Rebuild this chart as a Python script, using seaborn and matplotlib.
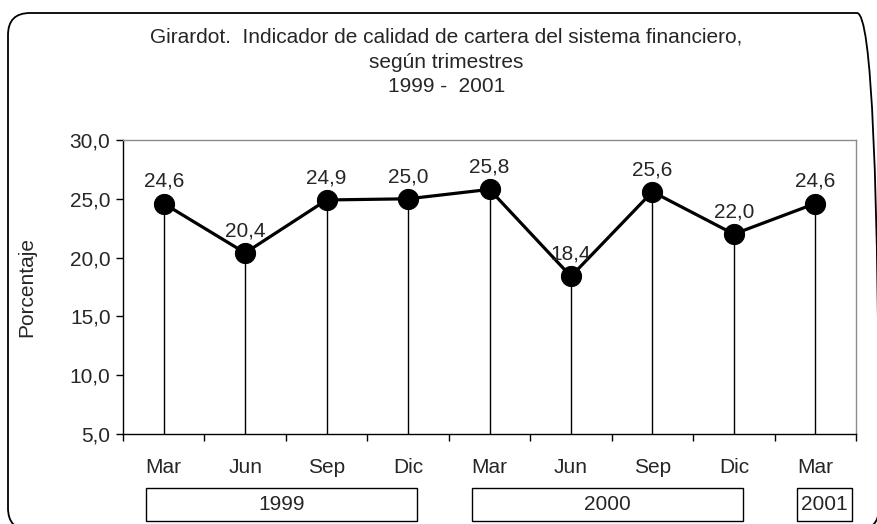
import matplotlib
matplotlib.use("Agg")
import matplotlib.pyplot as plt
import matplotlib.transforms as mtransforms
from matplotlib.patches import FancyBboxPatch, Rectangle
from matplotlib.ticker import FuncFormatter
import seaborn as sns
import pandas as pd

sns.set_style("white")
plt.rcParams['font.family'] = ['Liberation Sans', 'DejaVu Sans']

# data
trimestres = ['Mar', 'Jun', 'Sep', 'Dic', 'Mar', 'Jun', 'Sep', 'Dic', 'Mar']
valores = [24.6, 20.4, 24.9, 25.0, 25.8, 18.4, 25.6, 22.0, 24.6]
anios = ['1999', '2000', '2001']
anio_rango = [(0, 3), (4, 7), (8, 8)]

df = pd.DataFrame({'pos': range(len(valores)), 'valor': valores})
FS = 15

def coma(v, _=None):
    return f"{v:.1f}".replace('.', ',')

fig = plt.figure(figsize=(8.77, 5.24), dpi=100)
ax = fig.add_axes([123 / 877, 1 - 434 / 524, 733 / 877, 294 / 524])

# drop lines from each point to the bottom
ax.vlines(df['pos'], 5, df['valor'], color='black', linewidth=1, zorder=1)
sns.lineplot(data=df, x='pos', y='valor', ax=ax, color='black', linewidth=2.3,
             marker='o', markersize=14.5, markeredgecolor='black', zorder=3)

for x, y in zip(df['pos'], df['valor']):
    ax.annotate(coma(y), (x, y), xytext=(0, 16), textcoords='offset points',
                ha='center', va='center', fontsize=FS)

ax.set_xlim(-0.5, len(valores) - 0.5)
ax.set_ylim(5, 30)
ax.set_yticks([5, 10, 15, 20, 25, 30])
ax.yaxis.set_major_formatter(FuncFormatter(coma))
ax.set_xticks([i - 0.5 for i in range(len(valores) + 1)])
ax.set_xticklabels([])
ax.tick_params(axis='both', direction='out', length=5, width=1, color='black',
               labelsize=FS, left=True, bottom=True, pad=4)
ax.set_xlabel('')
ax.set_ylabel('Porcentaje', fontsize=FS)
ax.yaxis.set_label_coords(-0.119, 0.5)

for s in ['left', 'bottom']:
    ax.spines[s].set_color('black')
    ax.spines[s].set_linewidth(1)
for s in ['top', 'right']:
    ax.spines[s].set_color('#8c8c8c')
    ax.spines[s].set_linewidth(1)

# category labels and year boxes under the axis
trans = mtransforms.blended_transform_factory(ax.transData, ax.transAxes)
for i, t in enumerate(trimestres):
    ax.text(i, -0.113, t, transform=trans, ha='center', va='center',
            fontsize=FS, clip_on=False)

for anio, (a, b) in zip(anios, anio_rango):
    x0 = a - 0.5 + 0.28
    x1 = b + 0.5 - 0.05 if a == b else b + 0.5 - 0.39
    ax.add_patch(Rectangle((x0, -0.296), x1 - x0, 0.112, transform=trans,
                           fill=False, edgecolor='black', linewidth=1,
                           clip_on=False))
    ax.text((x0 + x1) / 2, -0.24, anio, transform=trans, ha='center',
            va='center', fontsize=FS, clip_on=False)

fig.text(0.509, 1 - 37 / 524,
         'Girardot.  Indicador de calidad de cartera del sistema financiero,',
         ha='center', va='center', fontsize=FS)
fig.text(0.509, 1 - 62 / 524, 'según trimestres', ha='center', va='center',
         fontsize=FS)
fig.text(0.509, 1 - 87 / 524, '1999 -  2001', ha='center', va='center',
         fontsize=FS)

# rounded outer border (pixel coordinates)
borde = FancyBboxPatch((8, -6), 871, 517,
                       boxstyle='round,pad=0,rounding_size=22',
                       transform=mtransforms.IdentityTransform(),
                       fill=False, edgecolor='black', linewidth=1.3)
fig.patches.append(borde)

fig.savefig('out.png', dpi=100)
